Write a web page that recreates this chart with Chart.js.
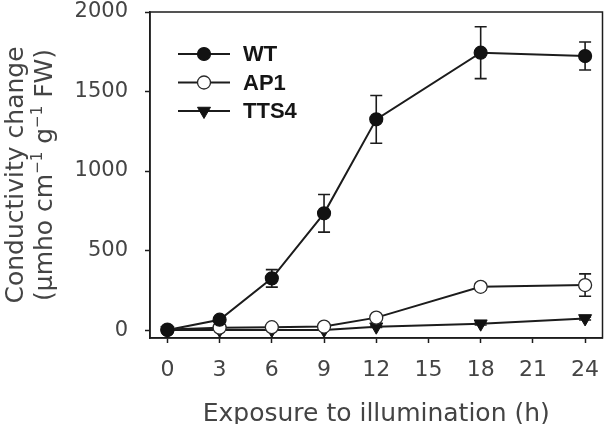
<!DOCTYPE html>
<html><head><meta charset="utf-8">
<script src="https://cdn.jsdelivr.net/npm/chart.js@4/dist/chart.umd.min.js"></script>
<style>html,body{margin:0;padding:0;background:#fff;overflow:hidden;}</style>
</head><body>
<canvas id="c" width="611" height="424" style="display:block;width:611px;height:424px"></canvas>
<script>
// ---- data ----
const hours = [0, 3, 6, 9, 12, 18, 24];
const xTickValues = [0, 3, 6, 9, 12, 15, 18, 21, 24];
const yTickValues = [0, 500, 1000, 1500, 2000];
const seriesNames = ['WT', 'AP1', 'TTS4'];
const wtValues = [0, 65, 325, 734, 1325, 1744, 1723];
const wtErrors = [8, 12, 55, 118, 150, 163, 88];
const ap1Values = [3, 15, 18, 22, 78, 272, 283];
const ap1Errors = [3, 5, 6, 6, 12, 20, 70];
const tts4Values = [0, 0, 0, 0, 21, 40, 73];
const tts4Errors = [0, 0, 0, 0, 5, 8, 10];
const xTitle = 'Exposure to illumination (h)';
const yTitleLine1 = 'Conductivity change';
// second line: [text, isSuperscript]
const yTitleLine2 = [['(µmho cm', false], ['−1', true], [' g', false], ['−1', true], [' FW)', false]];

const valueSets = [wtValues, ap1Values, tts4Values];
const errorSets = [wtErrors, ap1Errors, tts4Errors];

// ---- styles ----
const lineColor = '#1c1c1c';
const textColor = '#444444';
const tickFont = '"DejaVu Sans", sans-serif';
const legendFont = '"Liberation Sans", Arial, sans-serif';
const pointStyles = [
  {pointStyle: 'circle', pointRotation: 0, pointRadius: 6.5, pointBackgroundColor: '#121212', pointBorderColor: '#121212', pointBorderWidth: 1.2},
  {pointStyle: 'circle', pointRotation: 0, pointRadius: 6.5, pointBackgroundColor: '#ffffff', pointBorderColor: '#2a2a2a', pointBorderWidth: 1.3},
  {pointStyle: 'triangle', pointRotation: 180, pointRadius: 7.5, pointBackgroundColor: '#121212', pointBorderColor: '#121212', pointBorderWidth: 1}
];

const datasets = seriesNames.map((name, k) => Object.assign({
  label: name,
  data: hours.map((h, i) => ({x: h, y: valueSets[k][i]})),
  borderColor: lineColor,
  borderWidth: 2,
  tension: 0,
  fill: false
}, pointStyles[k]));

const errorBarPlugin = {
  id: 'errorBars',
  beforeDatasetsDraw(chart) {
    const ctx = chart.ctx, xs = chart.scales.x, ys = chart.scales.y;
    ctx.save();
    ctx.strokeStyle = lineColor;
    ctx.lineWidth = 1.6;
    errorSets.forEach((errs, k) => {
      errs.forEach((e, i) => {
        if (!e) return;
        const px = xs.getPixelForValue(hours[i]);
        const top = ys.getPixelForValue(valueSets[k][i] + e);
        const bot = ys.getPixelForValue(valueSets[k][i] - e);
        ctx.beginPath();
        ctx.moveTo(px, top); ctx.lineTo(px, bot);
        ctx.moveTo(px - 6, top); ctx.lineTo(px + 6, top);
        ctx.moveTo(px - 6, bot); ctx.lineTo(px + 6, bot);
        ctx.stroke();
      });
    });
    ctx.restore();
  }
};

const framePlugin = {
  id: 'frame',
  beforeDatasetsDraw(chart) {
    const {left, top, right, bottom} = chart.chartArea;
    const ctx = chart.ctx;
    ctx.save();
    ctx.strokeStyle = lineColor;
    ctx.lineWidth = 1.5;
    ctx.strokeRect(left, top, right - left, bottom - top);
    ctx.restore();
  }
};

// y-axis title with real superscripts, centred on the y scale
const yTitlePlugin = {
  id: 'yTitle',
  afterDraw(chart) {
    const ctx = chart.ctx;
    const ys = chart.scales.y;
    const cy = (ys.top + ys.bottom) / 2;
    const mainFont = '25px ' + tickFont;
    const supFont = '15px ' + tickFont;
    ctx.save();
    ctx.fillStyle = textColor;
    ctx.textBaseline = 'alphabetic';
    ctx.textAlign = 'left';
    // line 1
    ctx.save();
    ctx.translate(ys.left + 23, cy);
    ctx.rotate(-Math.PI / 2);
    ctx.font = mainFont;
    const w1 = ctx.measureText(yTitleLine1).width;
    ctx.fillText(yTitleLine1, -w1 / 2, 0);
    ctx.restore();
    // line 2
    ctx.save();
    ctx.translate(ys.left + 52, cy);
    ctx.rotate(-Math.PI / 2);
    let total = 0;
    const widths = yTitleLine2.map(([t, sup]) => {
      ctx.font = sup ? supFont : mainFont;
      const w = ctx.measureText(t).width;
      total += w;
      return w;
    });
    let x = -total / 2;
    yTitleLine2.forEach(([t, sup], i) => {
      ctx.font = sup ? supFont : mainFont;
      ctx.fillText(t, x, sup ? -10 : 0);
      x += widths[i];
    });
    ctx.restore();
    ctx.restore();
  }
};

function drawMarker(ctx, ds, x, y) {
  ctx.fillStyle = ds.pointBackgroundColor;
  ctx.strokeStyle = ds.pointBorderColor;
  ctx.lineWidth = ds.pointBorderWidth;
  const opts = {pointStyle: ds.pointStyle, rotation: ds.pointRotation, radius: ds.pointRadius, borderWidth: ds.pointBorderWidth};
  if (Chart.helpers && Chart.helpers.drawPoint) {
    Chart.helpers.drawPoint(ctx, opts, x, y);
  } else {
    ctx.beginPath();
    ctx.arc(x, y, ds.pointRadius, 0, Math.PI * 2);
    ctx.fill(); ctx.stroke();
  }
}

const legendPlugin = {
  id: 'insideLegend',
  afterDatasetsDraw(chart) {
    const ctx = chart.ctx;
    const {left, top} = chart.chartArea;
    const rowOffsets = [42, 70.5, 99];
    ctx.save();
    chart.data.datasets.forEach((ds, k) => {
      const y = top + rowOffsets[k];
      ctx.strokeStyle = lineColor;
      ctx.lineWidth = 2;
      ctx.beginPath();
      ctx.moveTo(left + 28, y); ctx.lineTo(left + 80, y);
      ctx.stroke();
      drawMarker(ctx, ds, left + 54, y);
      ctx.fillStyle = '#151515';
      ctx.font = 'bold 22px ' + legendFont;
      ctx.textBaseline = 'middle';
      ctx.textAlign = 'left';
      ctx.fillText(ds.label, left + 93, y + 1);
    });
    ctx.restore();
  }
};

new Chart(document.getElementById('c'), {
  type: 'line',
  data: {datasets},
  plugins: [framePlugin, errorBarPlugin, legendPlugin, yTitlePlugin],
  options: {
    responsive: false,
    animation: false,
    devicePixelRatio: 1,
    layout: {padding: {top: 12, right: 8, left: 0, bottom: 0}},
    plugins: {legend: {display: false}, tooltip: {enabled: false}},
    scales: {
      x: {
        type: 'linear', min: -1, max: 25,
        afterBuildTicks: s => { s.ticks = xTickValues.map(v => ({value: v})); },
        afterFit: s => { s.height = 86; s.paddingLeft = 0; s.paddingRight = 0; },
        grid: {display: true, drawOnChartArea: false, drawTicks: true, tickLength: 5, tickColor: lineColor, tickWidth: 1.5},
        border: {display: true, color: lineColor, width: 1.5},
        ticks: {padding: 14, color: textColor, font: {family: tickFont, size: 22}, maxRotation: 0, autoSkip: false,
                callback: v => String(v)},
        title: {display: true, text: xTitle, color: textColor, font: {family: tickFont, size: 25, lineHeight: 0.8}, padding: {top: 0, bottom: 0}}
      },
      y: {
        type: 'linear', min: -50, max: 2000,
        afterBuildTicks: s => { s.ticks = yTickValues.map(v => ({value: v})); },
        afterFit: s => { s.width = 150; s.paddingTop = 0; s.paddingBottom = 0; },
        grid: {display: true, drawOnChartArea: false, drawTicks: true, tickLength: 5, tickColor: lineColor, tickWidth: 1.5},
        border: {display: true, color: lineColor, width: 1.5},
        ticks: {padding: 17, color: textColor, font: {family: tickFont, size: 21}, autoSkip: false,
                callback: v => String(v)},
        title: {display: false}
      }
    }
  }
});
</script>
</body></html>
